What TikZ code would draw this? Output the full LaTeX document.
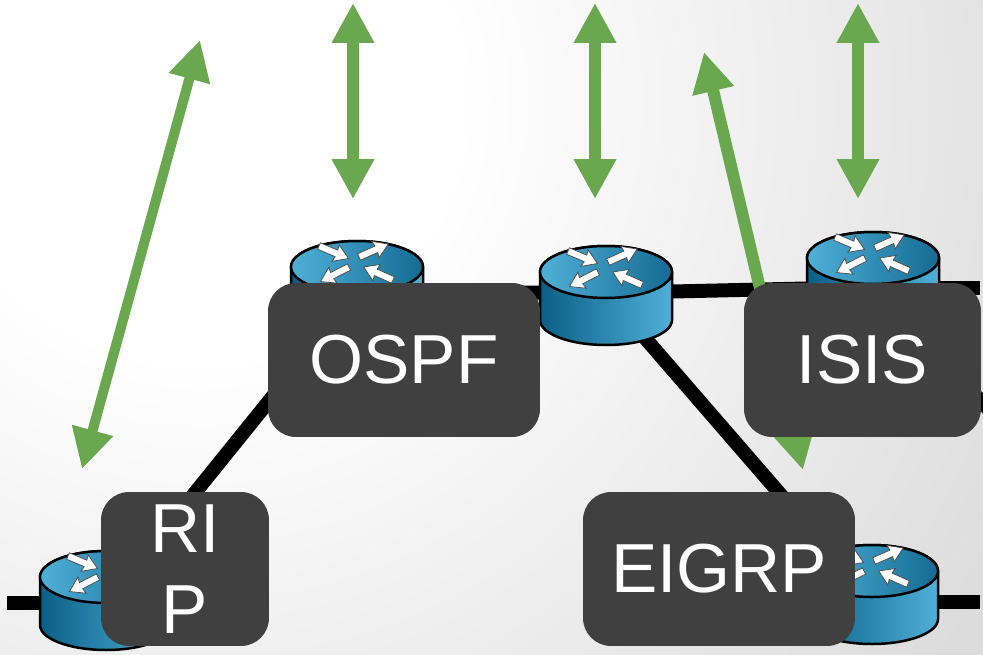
\documentclass[tikz,border=0pt]{standalone}
\usepackage{fontspec}
\setmainfont{Liberation Sans}
\usetikzlibrary{arrows.meta,positioning}

\definecolor{boxgray}{HTML}{404040}
\definecolor{exchgreen}{HTML}{6AA84F}
\definecolor{routerdark}{HTML}{0B5F86}
\definecolor{routerlight}{HTML}{4FB0D8}
\definecolor{pagegray}{HTML}{DCDCDC}
\pgfdeclareradialshading{pagefade}{\pgfpoint{0bp}{0bp}}{color(0bp)=(white); color(7bp)=(white); color(25bp)=(pagegray); color(50bp)=(pagegray)}

\begin{document}
\begin{tikzpicture}[
    x=0.02cm, y=-0.02cm,
    protocol/.style={rectangle, rounded corners=0.56cm, fill=boxgray, text=white, inner sep=0pt, align=center,
        font=\fontsize{39.5}{46.5}\selectfont},
    link/.style={line width=0.28cm, black},
    exchange/.style={{Triangle[width=0.8cm,length=0.8cm]}-{Triangle[width=0.8cm,length=0.8cm]}, draw=exchgreen, line width=0.24cm},
    router/.pic={
        % body, then the lid on top of it
        \shade[left color=routerdark, right color=routerlight, draw=black, line width=0.05cm]
            (-66,0) -- (-66,48) arc[start angle=180, end angle=360, x radius=66, y radius=-25] -- (66,0)
            arc[start angle=0, end angle=180, x radius=66, y radius=-26] -- cycle;
        \shade[left color=routerlight, right color=routerdark!85!routerlight, draw=black, line width=0.05cm]
            (0,0) ellipse[x radius=66, y radius=26];
        % four arrows on the lid
        \foreach \tailx/\taily/\heading in {-38/-21/-23, 2/-10/24, -8/0/207, 36/13/156}{
            \draw[fill=white, draw=black!70, line width=0.015cm, shift={(\tailx,\taily)}, rotate=\heading]
                (0,-3.5) -- (19,-3.5) -- (18,-9) -- (32,0) -- (18,9) -- (19,3.5) -- (0,3.5) -- cycle;
        }
    }
]
% Background
\useasboundingbox (0,0) rectangle (983,655);
\begin{scope}
\clip (0,0) rectangle (983,655);
\shade[shading=pagefade] (-730,-830) rectangle (1130,1030);
\end{scope}

% Where the routers sit
\coordinate (rip_router) at (106,603);
\coordinate (ospf_router) at (357,292);
\coordinate (core_router) at (606,293);
\coordinate (isis_router) at (873,287);
\coordinate (eigrp_router) at (872,600);
\coordinate (rip_stub) at (7,603);
\coordinate (eigrp_stub) at (980,602);
\coordinate (isis_stub) at (980,288);
\coordinate (isis_down) at (1010,432);

% Links
\draw[link] (rip_stub) -- (rip_router);
\draw[link] (rip_router) -- (ospf_router);
\draw[link] (ospf_router) -- (core_router);
\draw[link] (core_router) -- (isis_router);
\draw[link] (core_router) -- (eigrp_router);
\draw[link] (eigrp_router |- eigrp_stub) -- (eigrp_stub);
\draw[link] (isis_router |- isis_stub) -- (isis_stub);
\draw[link] (isis_router) -- (isis_down);

% Routers
\pic at (106,577) {router};
\pic at (357,267) {router};
\pic at (606,272) {router};
\pic at (873,258) {router};
\pic at (872,571) {router};

% Exchanges
\coordinate (rip_far) at (200,40);
\coordinate (rip_near) at (82,469);
\coordinate (ospf_far) at (353,3);
\coordinate (ospf_near) at (353,199);
\coordinate (core_far) at (595,3);
\coordinate (core_near) at (595,199);
\coordinate (eigrp_far) at (704,52);
\coordinate (eigrp_near) at (803,470);
\coordinate (isis_far) at (858,3);
\coordinate (isis_near) at (858,199);
\draw[exchange, line width=0.2cm] (rip_far) -- (rip_near);
\draw[exchange] (ospf_far) -- (ospf_near);
\draw[exchange] (core_far) -- (core_near);
\draw[exchange] (eigrp_far) -- (eigrp_near);
\draw[exchange] (isis_far) -- (isis_near);

% Protocol labels
\node[protocol, minimum width=3.36cm, minimum height=3.08cm] (rip_box) at (185,569) {RI\\P};
\node[protocol, minimum width=5.44cm, minimum height=3.08cm] (ospf_box) at (404,360) {OSPF};
\node[protocol, minimum width=4.74cm, minimum height=3.08cm] (isis_box) at (862.5,360) {ISIS};
\node[protocol, minimum width=5.44cm, minimum height=3.08cm] (eigrp_box) at (719,569) {EIGRP};

\end{tikzpicture}
\end{document}
